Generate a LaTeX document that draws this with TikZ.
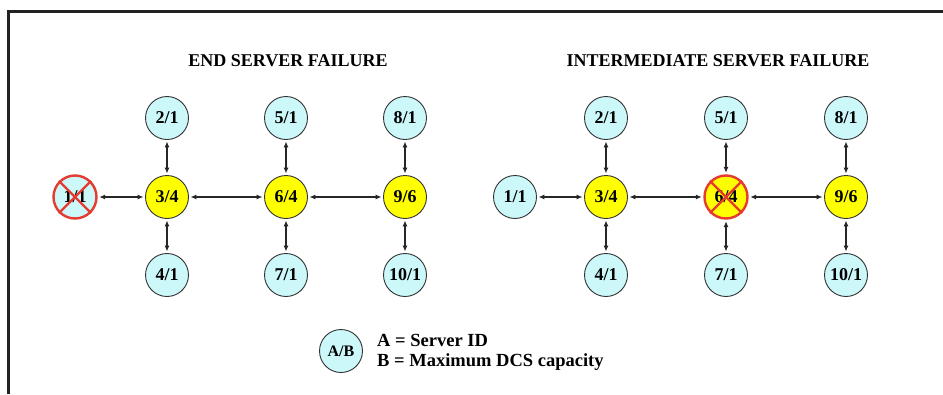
\documentclass[tikz,border=0pt]{standalone}
\usepackage{fontspec}
\setmainfont{Liberation Serif}
\usetikzlibrary{arrows.meta}
\definecolor{srvcyan}{HTML}{CCF8FA}
\definecolor{srvyellow}{HTML}{FFFF00}
\definecolor{failred}{HTML}{E53B30}
\definecolor{frameline}{HTML}{222222}
\tikzset{
  srv/.style={circle, draw=black!80, line width=0.9pt, fill=srvcyan, minimum size=43pt, inner sep=0pt,
    font=\fontsize{18}{18}\selectfont\bfseries},
  hub/.style={srv, fill=srvyellow},
  failed/.style={draw=failred, line width=2.4pt},
  failx/.style={failred, line width=2.2pt},
  link/.style={{Latex[length=6pt,width=5pt]}-{Latex[length=6pt,width=5pt]}, line width=1.1pt, black!85, shorten >=1.5pt, shorten <=1.5pt},
  ttl/.style={anchor=base, font=\fontsize{18}{18}\selectfont\bfseries, inner sep=0pt},
  lgd/.style={anchor=base west, font=\fontsize{18.5}{18.5}\selectfont\bfseries, inner sep=0pt},
}
\begin{document}
\begin{tikzpicture}[x=1pt,y=-1pt]
\useasboundingbox (0,0) rectangle (943,394);
\fill[white] (0,0) rectangle (943,394);
% frame
\draw[frameline, line width=3.5pt] (8.5,394) -- (8.5,11.5) -- (943,11.5);

% titles
\node[ttl] (t1) at (288,66.5) {END SERVER FAILURE};
\node[ttl] (t2) at (718,66.5) {INTERMEDIATE SERVER FAILURE};

% left diagram
\node[srv, failed] (L1) at (75,197) {1/1};
\node[hub] (L3) at (167,197) {3/4};
\node[hub] (L6) at (286,197) {6/4};
\node[hub] (L9) at (405,197) {9/6};
\node[srv] (L2) at (167,118) {2/1};
\node[srv] (L5) at (286,118) {5/1};
\node[srv] (L8) at (405,118) {8/1};
\node[srv] (L4) at (167,275) {4/1};
\node[srv] (L7) at (286,275) {7/1};
\node[srv] (L10) at (405,275) {10/1};
\draw[failx] (L1.north west) -- (L1.south east);
\draw[failx] (L1.north east) -- (L1.south west);

\draw[link] (L1) -- (L3);
\draw[link] (L3) -- (L6);
\draw[link] (L6) -- (L9);
\draw[link] (L2) -- (L3);
\draw[link] (L5) -- (L6);
\draw[link] (L8) -- (L9);
\draw[link] (L3) -- (L4);
\draw[link] (L6) -- (L7);
\draw[link] (L9) -- (L10);

% right diagram
\node[srv] (R1) at (515,197) {1/1};
\node[hub] (R3) at (606,197) {3/4};
\node[hub, failed] (R6) at (726,197) {6/4};
\node[hub] (R9) at (846,197) {9/6};
\node[srv] (R2) at (606,118) {2/1};
\node[srv] (R5) at (726,118) {5/1};
\node[srv] (R8) at (846,118) {8/1};
\node[srv] (R4) at (606,275) {4/1};
\node[srv] (R7) at (726,275) {7/1};
\node[srv] (R10) at (846,275) {10/1};
\draw[failx] (R6.north west) -- (R6.south east);
\draw[failx] (R6.north east) -- (R6.south west);

\draw[link] (R1) -- (R3);
\draw[link] (R3) -- (R6);
\draw[link] (R6) -- (R9);
\draw[link] (R2) -- (R3);
\draw[link] (R5) -- (R6);
\draw[link] (R8) -- (R9);
\draw[link] (R3) -- (R4);
\draw[link] (R6) -- (R7);
\draw[link] (R9) -- (R10);

% legend
\node[srv, font=\fontsize{16}{16}\selectfont\bfseries] (key) at (341,351) {A/B};
\node[lgd] (la) at (377,346) {A = Server ID};
\node[lgd] (lb) at (377,366) {B = Maximum DCS capacity};
\end{tikzpicture}
\end{document}
